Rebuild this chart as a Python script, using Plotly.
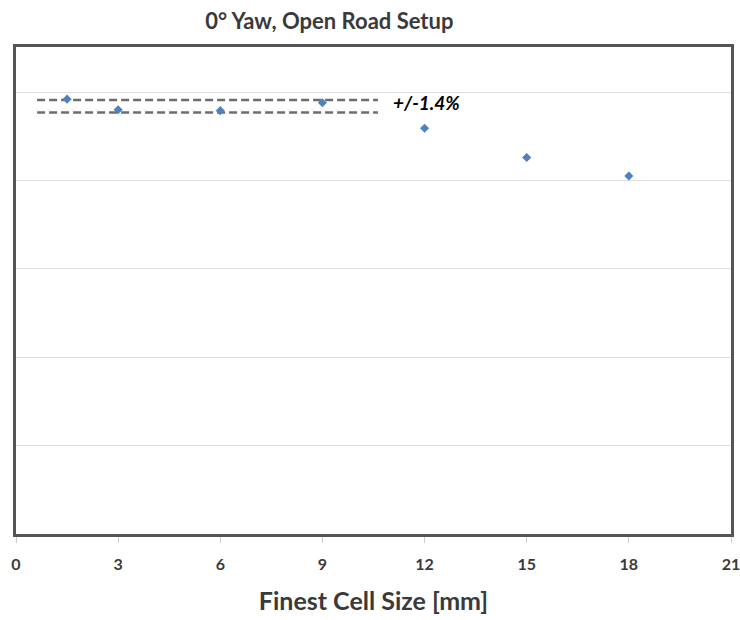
import plotly.graph_objects as go

cell_size = [1.5, 3, 6, 9, 12, 15, 18]
values = [0.492, 0.480, 0.479, 0.488, 0.459, 0.426, 0.405]

band_x = [0.62, 10.63]
band_upper = 0.491
band_lower = 0.477
band_label = "+/-1.4%"

x_ticks = [0, 3, 6, 9, 12, 15, 18, 21]
y_grid = [0.0, 0.1, 0.2, 0.3, 0.4, 0.5]

fig = go.Figure()

for yv in (band_upper, band_lower):
    fig.add_trace(go.Scatter(
        x=band_x, y=[yv, yv], mode="lines",
        line=dict(color="#6d6d6d", width=2.5, dash="8px,4px"),
        hoverinfo="skip", showlegend=False))

fig.add_trace(go.Scatter(
    x=cell_size, y=values, mode="markers",
    marker=dict(symbol="diamond", size=7, color="#4F81BD"),
    showlegend=False))

fig.add_annotation(x=12.07, y=(band_upper + band_lower) / 2 + 0.004, xref="x", yref="y",
                   text="<b><i>" + band_label + "</i></b>", showarrow=False,
                   font=dict(family="Lato", size=19, color="#000000"))

fig.update_layout(
    width=740, height=620,
    margin=dict(l=16, r=9, t=47, b=86, autoexpand=False),
    paper_bgcolor="white", plot_bgcolor="white",
    font=dict(family="Lato", color="#404040"),
    title=dict(text="<b>0° Yaw, Open Road Setup</b>", x=0.445, xanchor="center",
               y=0.966, yanchor="middle", font=dict(family="Lato", size=22, color="#3a3a3a")),
)

fig.update_xaxes(
    range=[0, 21], tickvals=x_ticks, ticktext=["<b>%d</b>" % t for t in x_ticks],
    tickfont=dict(family="Lato", size=16, color="#3a3a3a"),
    ticklabeloverflow="allow",
    showgrid=False, zeroline=False, automargin=False,
    showline=True, linecolor="#555555", linewidth=3, mirror=True,
    ticks="outside", ticklen=6, tickcolor="#d0d0d0", tickwidth=1,
    ticklabelstandoff=8,
    title=dict(text="<b>Finest Cell Size [mm]</b>", font=dict(family="Lato", size=25, color="#3a3a3a"),
               standoff=21),
)
fig.update_yaxes(
    range=[0, 0.551], tickvals=y_grid, showticklabels=False, automargin=False,
    showgrid=True, gridcolor="#dedede", gridwidth=1, zeroline=False,
    showline=True, linecolor="#555555", linewidth=3, mirror=True,
)

fig.write_html("out.html", config={"displayModeBar": False},
               post_script="document.body.style.margin='0';")
